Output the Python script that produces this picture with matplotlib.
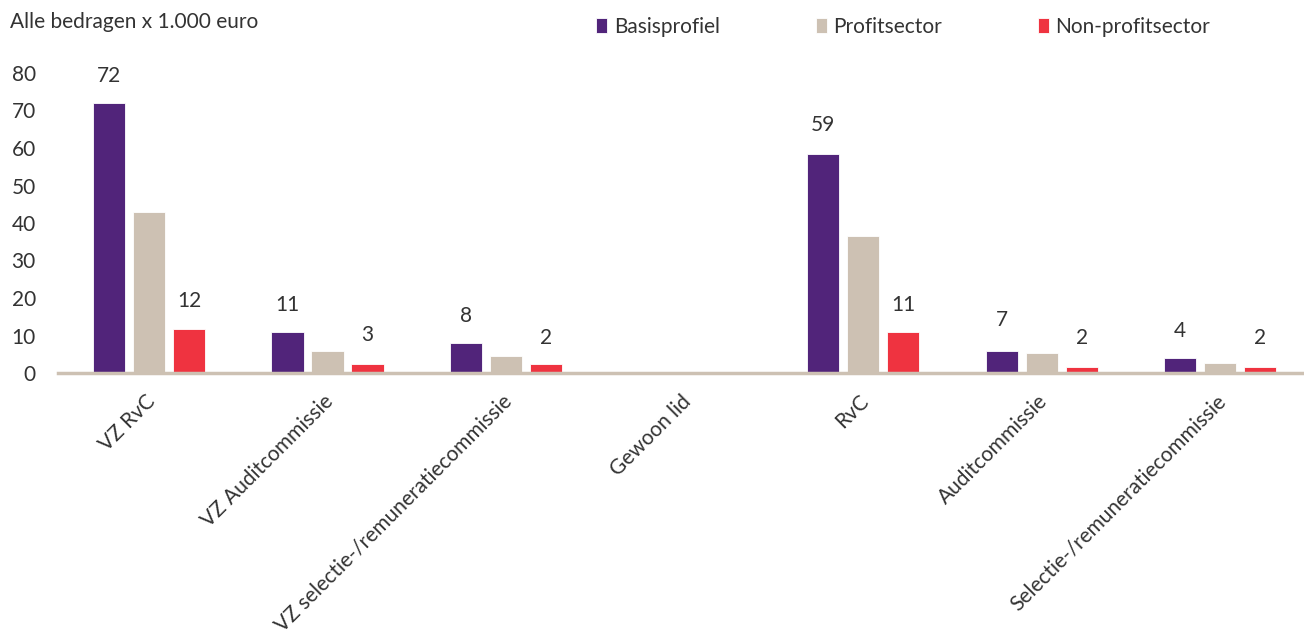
import matplotlib
matplotlib.use("Agg")
import matplotlib.pyplot as plt
from matplotlib.transforms import ScaledTranslation
import numpy as np

categories = ["VZ RvC", "VZ Auditcommissie", "VZ selectie-/remuneratiecommissie",
              "Gewoon lid", "RvC", "Auditcommissie", "Selectie-/remuneratiecommissie"]
series_names = ["Basisprofiel", "Profitsector", "Non-profitsector"]
basis = [72, 10.9, 8, 0, 58.4, 5.9, 4]
profit = [42.9, 5.9, 4.5, 0, 36.5, 5.3, 2.7]
nonprofit = [11.7, 2.4, 2.4, 0, 10.9, 1.6, 1.6]
basis_labels = [72, 11, 8, None, 59, 7, 4]
nonprofit_labels = [12, 3, 2, None, 11, 2, 2]
yticks = [0, 10, 20, 30, 40, 50, 60, 70, 80]

colors = ["#51247A", "#CDC1B3", "#EF3340"]
text_color = "#333333"
plt.rcParams['font.family'] = ['Lato', 'DejaVu Sans']
FS = 15

fig = plt.figure(figsize=(13.04, 6.33), dpi=100)
ax = fig.add_axes([58/1304, 1 - 373/633, 1 - 58/1304, 300/633])

x = np.arange(len(categories))
step = 0.224
width = 0.18
for i, (vals, c, name) in enumerate(zip([basis, profit, nonprofit], colors, series_names)):
    ax.bar(x + (i - 1) * step, vals, width=width, color=c, label=name,
           edgecolor="white", linewidth=0.6, zorder=2)

for xi, lab in zip(x - step, basis_labels):
    if lab is not None:
        ax.annotate(str(lab), (xi, lab), xytext=(0, 19.5), textcoords="offset points",
                    ha="center", va="center", fontsize=FS, color=text_color)
for xi, lab in zip(x + step, nonprofit_labels):
    if lab is not None:
        ax.annotate(str(lab), (xi, lab), xytext=(0, 19.5), textcoords="offset points",
                    ha="center", va="center", fontsize=FS, color=text_color)

ax.set_xlim(-0.51, 6.47)
ax.set_ylim(0, 80)
ax.set_yticks(yticks)
ax.set_yticklabels([str(t) for t in yticks], fontsize=FS, color=text_color)
ax.tick_params(axis="y", length=0, pad=16)
ax.set_xticks(x)
ax.set_xticklabels(categories, rotation=45, ha="right", rotation_mode="anchor",
                   fontsize=FS, color=text_color)
ax.tick_params(axis="x", length=0, pad=13)
shift = ScaledTranslation(-3/72, 0, fig.dpi_scale_trans)
for lbl in ax.get_xticklabels():
    lbl.set_transform(lbl.get_transform() + shift)
for s in ["top", "right", "left"]:
    ax.spines[s].set_visible(False)
ax.spines["bottom"].set_color("#CDC1B3")
ax.spines["bottom"].set_linewidth(2.5)
ax.spines["bottom"].set_zorder(3)

fig.text(10/1304, 1 - 22/633, "Alle bedragen x 1.000 euro", fontsize=FS,
         color=text_color, ha="left", va="center")

handles, labels = ax.get_legend_handles_labels()
fig.legend(handles, labels, loc="center left", bbox_to_anchor=(596/1304, 1 - 27/633),
           ncol=3, frameon=False, fontsize=FS, handlelength=0.55, handleheight=0.75,
           handletextpad=0.3, columnspacing=4.6, labelcolor=text_color,
           borderaxespad=0, borderpad=0)

fig.savefig("out.png", dpi=100)
